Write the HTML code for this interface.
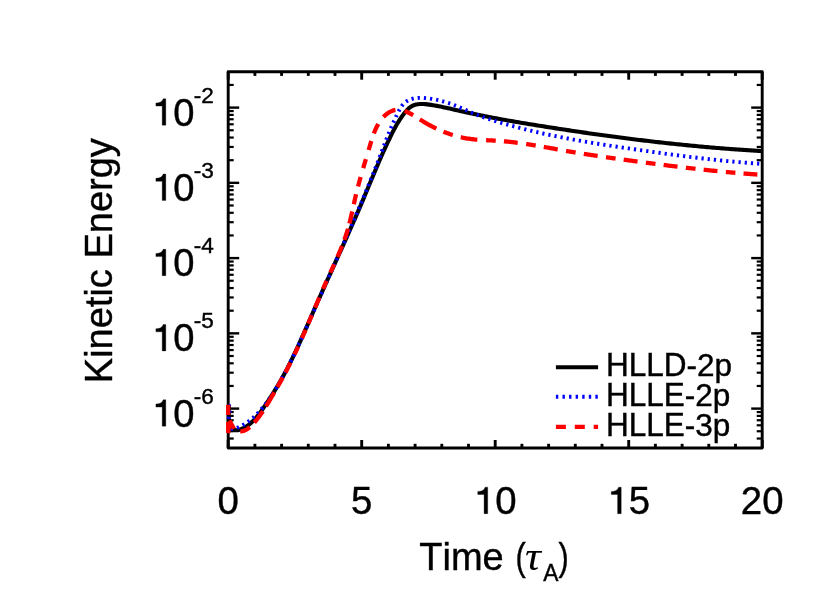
<!DOCTYPE html>
<html><head><meta charset="utf-8"><title>Kinetic Energy</title>
<style>
html,body{margin:0;padding:0;background:#fff;}
body{width:830px;height:593px;overflow:hidden;}
svg{display:block;will-change:transform;}
text{font-family:"Liberation Sans",sans-serif;fill:#000;stroke:#000;stroke-width:0.4px;font-kerning:none;}
</style></head><body>
<svg width="830" height="593" viewBox="0 0 830 593">
<rect width="830" height="593" fill="#fff"/>
<g stroke="#000">
<line x1="228.20" y1="448.0" x2="228.20" y2="440.00" stroke-width="2.9"/>
<line x1="228.20" y1="71.7" x2="228.20" y2="79.70" stroke-width="2.9"/>
<line x1="254.90" y1="448.0" x2="254.90" y2="443.80" stroke-width="2.9"/>
<line x1="254.90" y1="71.7" x2="254.90" y2="75.90" stroke-width="2.9"/>
<line x1="281.60" y1="448.0" x2="281.60" y2="443.80" stroke-width="2.9"/>
<line x1="281.60" y1="71.7" x2="281.60" y2="75.90" stroke-width="2.9"/>
<line x1="308.30" y1="448.0" x2="308.30" y2="443.80" stroke-width="2.9"/>
<line x1="308.30" y1="71.7" x2="308.30" y2="75.90" stroke-width="2.9"/>
<line x1="335.00" y1="448.0" x2="335.00" y2="443.80" stroke-width="2.9"/>
<line x1="335.00" y1="71.7" x2="335.00" y2="75.90" stroke-width="2.9"/>
<line x1="361.70" y1="448.0" x2="361.70" y2="440.00" stroke-width="2.9"/>
<line x1="361.70" y1="71.7" x2="361.70" y2="79.70" stroke-width="2.9"/>
<line x1="388.40" y1="448.0" x2="388.40" y2="443.80" stroke-width="2.9"/>
<line x1="388.40" y1="71.7" x2="388.40" y2="75.90" stroke-width="2.9"/>
<line x1="415.10" y1="448.0" x2="415.10" y2="443.80" stroke-width="2.9"/>
<line x1="415.10" y1="71.7" x2="415.10" y2="75.90" stroke-width="2.9"/>
<line x1="441.80" y1="448.0" x2="441.80" y2="443.80" stroke-width="2.9"/>
<line x1="441.80" y1="71.7" x2="441.80" y2="75.90" stroke-width="2.9"/>
<line x1="468.50" y1="448.0" x2="468.50" y2="443.80" stroke-width="2.9"/>
<line x1="468.50" y1="71.7" x2="468.50" y2="75.90" stroke-width="2.9"/>
<line x1="495.20" y1="448.0" x2="495.20" y2="440.00" stroke-width="2.9"/>
<line x1="495.20" y1="71.7" x2="495.20" y2="79.70" stroke-width="2.9"/>
<line x1="521.90" y1="448.0" x2="521.90" y2="443.80" stroke-width="2.9"/>
<line x1="521.90" y1="71.7" x2="521.90" y2="75.90" stroke-width="2.9"/>
<line x1="548.60" y1="448.0" x2="548.60" y2="443.80" stroke-width="2.9"/>
<line x1="548.60" y1="71.7" x2="548.60" y2="75.90" stroke-width="2.9"/>
<line x1="575.30" y1="448.0" x2="575.30" y2="443.80" stroke-width="2.9"/>
<line x1="575.30" y1="71.7" x2="575.30" y2="75.90" stroke-width="2.9"/>
<line x1="602.00" y1="448.0" x2="602.00" y2="443.80" stroke-width="2.9"/>
<line x1="602.00" y1="71.7" x2="602.00" y2="75.90" stroke-width="2.9"/>
<line x1="628.70" y1="448.0" x2="628.70" y2="440.00" stroke-width="2.9"/>
<line x1="628.70" y1="71.7" x2="628.70" y2="79.70" stroke-width="2.9"/>
<line x1="655.40" y1="448.0" x2="655.40" y2="443.80" stroke-width="2.9"/>
<line x1="655.40" y1="71.7" x2="655.40" y2="75.90" stroke-width="2.9"/>
<line x1="682.10" y1="448.0" x2="682.10" y2="443.80" stroke-width="2.9"/>
<line x1="682.10" y1="71.7" x2="682.10" y2="75.90" stroke-width="2.9"/>
<line x1="708.80" y1="448.0" x2="708.80" y2="443.80" stroke-width="2.9"/>
<line x1="708.80" y1="71.7" x2="708.80" y2="75.90" stroke-width="2.9"/>
<line x1="735.50" y1="448.0" x2="735.50" y2="443.80" stroke-width="2.9"/>
<line x1="735.50" y1="71.7" x2="735.50" y2="75.90" stroke-width="2.9"/>
<line x1="762.20" y1="448.0" x2="762.20" y2="440.00" stroke-width="2.9"/>
<line x1="762.20" y1="71.7" x2="762.20" y2="79.70" stroke-width="2.9"/>
<line x1="228.2" y1="438.54" x2="233.70" y2="438.54" stroke-width="2.2"/>
<line x1="762.2" y1="438.54" x2="756.70" y2="438.54" stroke-width="2.2"/>
<line x1="228.2" y1="431.25" x2="233.70" y2="431.25" stroke-width="2.2"/>
<line x1="762.2" y1="431.25" x2="756.70" y2="431.25" stroke-width="2.2"/>
<line x1="228.2" y1="425.29" x2="233.70" y2="425.29" stroke-width="2.2"/>
<line x1="762.2" y1="425.29" x2="756.70" y2="425.29" stroke-width="2.2"/>
<line x1="228.2" y1="420.26" x2="233.70" y2="420.26" stroke-width="2.2"/>
<line x1="762.2" y1="420.26" x2="756.70" y2="420.26" stroke-width="2.2"/>
<line x1="228.2" y1="415.89" x2="233.70" y2="415.89" stroke-width="2.2"/>
<line x1="762.2" y1="415.89" x2="756.70" y2="415.89" stroke-width="2.2"/>
<line x1="228.2" y1="412.04" x2="233.70" y2="412.04" stroke-width="2.2"/>
<line x1="762.2" y1="412.04" x2="756.70" y2="412.04" stroke-width="2.2"/>
<line x1="228.2" y1="408.60" x2="239.20" y2="408.60" stroke-width="2.4"/>
<line x1="762.2" y1="408.60" x2="751.20" y2="408.60" stroke-width="2.4"/>
<line x1="228.2" y1="385.95" x2="233.70" y2="385.95" stroke-width="2.2"/>
<line x1="762.2" y1="385.95" x2="756.70" y2="385.95" stroke-width="2.2"/>
<line x1="228.2" y1="372.70" x2="233.70" y2="372.70" stroke-width="2.2"/>
<line x1="762.2" y1="372.70" x2="756.70" y2="372.70" stroke-width="2.2"/>
<line x1="228.2" y1="363.29" x2="233.70" y2="363.29" stroke-width="2.2"/>
<line x1="762.2" y1="363.29" x2="756.70" y2="363.29" stroke-width="2.2"/>
<line x1="228.2" y1="356.00" x2="233.70" y2="356.00" stroke-width="2.2"/>
<line x1="762.2" y1="356.00" x2="756.70" y2="356.00" stroke-width="2.2"/>
<line x1="228.2" y1="350.04" x2="233.70" y2="350.04" stroke-width="2.2"/>
<line x1="762.2" y1="350.04" x2="756.70" y2="350.04" stroke-width="2.2"/>
<line x1="228.2" y1="345.01" x2="233.70" y2="345.01" stroke-width="2.2"/>
<line x1="762.2" y1="345.01" x2="756.70" y2="345.01" stroke-width="2.2"/>
<line x1="228.2" y1="340.64" x2="233.70" y2="340.64" stroke-width="2.2"/>
<line x1="762.2" y1="340.64" x2="756.70" y2="340.64" stroke-width="2.2"/>
<line x1="228.2" y1="336.79" x2="233.70" y2="336.79" stroke-width="2.2"/>
<line x1="762.2" y1="336.79" x2="756.70" y2="336.79" stroke-width="2.2"/>
<line x1="228.2" y1="333.35" x2="239.20" y2="333.35" stroke-width="2.4"/>
<line x1="762.2" y1="333.35" x2="751.20" y2="333.35" stroke-width="2.4"/>
<line x1="228.2" y1="310.70" x2="233.70" y2="310.70" stroke-width="2.2"/>
<line x1="762.2" y1="310.70" x2="756.70" y2="310.70" stroke-width="2.2"/>
<line x1="228.2" y1="297.45" x2="233.70" y2="297.45" stroke-width="2.2"/>
<line x1="762.2" y1="297.45" x2="756.70" y2="297.45" stroke-width="2.2"/>
<line x1="228.2" y1="288.04" x2="233.70" y2="288.04" stroke-width="2.2"/>
<line x1="762.2" y1="288.04" x2="756.70" y2="288.04" stroke-width="2.2"/>
<line x1="228.2" y1="280.75" x2="233.70" y2="280.75" stroke-width="2.2"/>
<line x1="762.2" y1="280.75" x2="756.70" y2="280.75" stroke-width="2.2"/>
<line x1="228.2" y1="274.79" x2="233.70" y2="274.79" stroke-width="2.2"/>
<line x1="762.2" y1="274.79" x2="756.70" y2="274.79" stroke-width="2.2"/>
<line x1="228.2" y1="269.76" x2="233.70" y2="269.76" stroke-width="2.2"/>
<line x1="762.2" y1="269.76" x2="756.70" y2="269.76" stroke-width="2.2"/>
<line x1="228.2" y1="265.39" x2="233.70" y2="265.39" stroke-width="2.2"/>
<line x1="762.2" y1="265.39" x2="756.70" y2="265.39" stroke-width="2.2"/>
<line x1="228.2" y1="261.54" x2="233.70" y2="261.54" stroke-width="2.2"/>
<line x1="762.2" y1="261.54" x2="756.70" y2="261.54" stroke-width="2.2"/>
<line x1="228.2" y1="258.10" x2="239.20" y2="258.10" stroke-width="2.4"/>
<line x1="762.2" y1="258.10" x2="751.20" y2="258.10" stroke-width="2.4"/>
<line x1="228.2" y1="235.45" x2="233.70" y2="235.45" stroke-width="2.2"/>
<line x1="762.2" y1="235.45" x2="756.70" y2="235.45" stroke-width="2.2"/>
<line x1="228.2" y1="222.20" x2="233.70" y2="222.20" stroke-width="2.2"/>
<line x1="762.2" y1="222.20" x2="756.70" y2="222.20" stroke-width="2.2"/>
<line x1="228.2" y1="212.79" x2="233.70" y2="212.79" stroke-width="2.2"/>
<line x1="762.2" y1="212.79" x2="756.70" y2="212.79" stroke-width="2.2"/>
<line x1="228.2" y1="205.50" x2="233.70" y2="205.50" stroke-width="2.2"/>
<line x1="762.2" y1="205.50" x2="756.70" y2="205.50" stroke-width="2.2"/>
<line x1="228.2" y1="199.54" x2="233.70" y2="199.54" stroke-width="2.2"/>
<line x1="762.2" y1="199.54" x2="756.70" y2="199.54" stroke-width="2.2"/>
<line x1="228.2" y1="194.51" x2="233.70" y2="194.51" stroke-width="2.2"/>
<line x1="762.2" y1="194.51" x2="756.70" y2="194.51" stroke-width="2.2"/>
<line x1="228.2" y1="190.14" x2="233.70" y2="190.14" stroke-width="2.2"/>
<line x1="762.2" y1="190.14" x2="756.70" y2="190.14" stroke-width="2.2"/>
<line x1="228.2" y1="186.29" x2="233.70" y2="186.29" stroke-width="2.2"/>
<line x1="762.2" y1="186.29" x2="756.70" y2="186.29" stroke-width="2.2"/>
<line x1="228.2" y1="182.85" x2="239.20" y2="182.85" stroke-width="2.4"/>
<line x1="762.2" y1="182.85" x2="751.20" y2="182.85" stroke-width="2.4"/>
<line x1="228.2" y1="160.20" x2="233.70" y2="160.20" stroke-width="2.2"/>
<line x1="762.2" y1="160.20" x2="756.70" y2="160.20" stroke-width="2.2"/>
<line x1="228.2" y1="146.95" x2="233.70" y2="146.95" stroke-width="2.2"/>
<line x1="762.2" y1="146.95" x2="756.70" y2="146.95" stroke-width="2.2"/>
<line x1="228.2" y1="137.54" x2="233.70" y2="137.54" stroke-width="2.2"/>
<line x1="762.2" y1="137.54" x2="756.70" y2="137.54" stroke-width="2.2"/>
<line x1="228.2" y1="130.25" x2="233.70" y2="130.25" stroke-width="2.2"/>
<line x1="762.2" y1="130.25" x2="756.70" y2="130.25" stroke-width="2.2"/>
<line x1="228.2" y1="124.29" x2="233.70" y2="124.29" stroke-width="2.2"/>
<line x1="762.2" y1="124.29" x2="756.70" y2="124.29" stroke-width="2.2"/>
<line x1="228.2" y1="119.26" x2="233.70" y2="119.26" stroke-width="2.2"/>
<line x1="762.2" y1="119.26" x2="756.70" y2="119.26" stroke-width="2.2"/>
<line x1="228.2" y1="114.89" x2="233.70" y2="114.89" stroke-width="2.2"/>
<line x1="762.2" y1="114.89" x2="756.70" y2="114.89" stroke-width="2.2"/>
<line x1="228.2" y1="111.04" x2="233.70" y2="111.04" stroke-width="2.2"/>
<line x1="762.2" y1="111.04" x2="756.70" y2="111.04" stroke-width="2.2"/>
<line x1="228.2" y1="107.60" x2="239.20" y2="107.60" stroke-width="2.4"/>
<line x1="762.2" y1="107.60" x2="751.20" y2="107.60" stroke-width="2.4"/>
<line x1="228.2" y1="84.95" x2="233.70" y2="84.95" stroke-width="2.2"/>
<line x1="762.2" y1="84.95" x2="756.70" y2="84.95" stroke-width="2.2"/>
</g>
<rect x="228.2" y="71.7" width="534.00" height="376.30" fill="none" stroke="#000" stroke-width="2.9" stroke-linejoin="round"/>
<g fill="none" stroke-linejoin="round">
<path d="M228.30,404.70 L228.65,406.01 L228.83,407.62 L228.87,409.48 L228.82,411.53 L228.74,413.70 L228.65,415.95 L228.60,418.22 L228.64,420.44 L228.82,422.55 L229.17,424.50 L229.73,426.23 L230.54,427.69 L231.59,428.84 L232.87,429.65 L234.35,430.12 L235.99,430.28 L237.73,430.13 L239.54,429.71 L241.37,429.04 L243.19,428.20 L244.96,427.23 L246.66,426.18 L248.27,425.06 L249.82,423.87 L251.29,422.62 L252.70,421.32 L254.05,419.97 L255.35,418.57 L256.60,417.14 L257.81,415.66 L258.99,414.16 L260.13,412.64 L261.25,411.09 L262.35,409.53 L263.43,407.96 L264.51,406.39 L265.57,404.81 L266.63,403.22 L267.69,401.64 L268.73,400.05 L269.77,398.46 L270.80,396.86 L271.82,395.26 L272.84,393.66 L273.84,392.05 L274.84,390.43 L275.83,388.82 L276.80,387.19 L277.78,385.57 L278.74,383.93 L279.69,382.30 L280.63,380.65 L281.57,379.01 L282.49,377.35 L283.40,375.69 L284.31,374.03 L285.20,372.36 L286.09,370.68 L286.97,369.01 L287.84,367.32 L288.71,365.63 L289.56,363.94 L290.41,362.24 L291.25,360.54 L292.09,358.84 L292.92,357.13 L293.74,355.42 L294.56,353.71 L295.37,351.99 L296.17,350.27 L296.97,348.54 L297.77,346.82 L298.56,345.09 L299.35,343.36 L300.14,341.62 L300.92,339.89 L301.69,338.15 L302.47,336.41 L303.24,334.67 L304.01,332.93 L304.77,331.19 L305.54,329.44 L306.30,327.70 L307.07,325.95 L307.83,324.21 L308.59,322.46 L309.35,320.71 L310.11,318.97 L310.87,317.22 L311.63,315.48 L312.39,313.73 L313.15,311.98 L313.91,310.24 L314.68,308.50 L315.44,306.76 L316.21,305.01 L316.98,303.27 L317.75,301.53 L318.52,299.79 L319.29,298.06 L320.07,296.32 L320.84,294.58 L321.62,292.85 L322.39,291.11 L323.17,289.38 L323.95,287.64 L324.73,285.91 L325.51,284.18 L326.29,282.44 L327.07,280.71 L327.85,278.98 L328.63,277.25 L329.41,275.52 L330.20,273.78 L330.98,272.05 L331.76,270.32 L332.55,268.59 L333.33,266.86 L334.11,265.13 L334.90,263.40 L335.68,261.67 L336.46,259.94 L337.25,258.21 L338.03,256.48 L338.81,254.75 L339.59,253.02 L340.37,251.29 L341.16,249.56 L341.94,247.83 L342.72,246.09 L343.50,244.36 L344.27,242.63 L345.05,240.90 L345.83,239.16 L346.61,237.43 L347.38,235.70 L348.16,233.96 L348.93,232.23 L349.70,230.49 L350.47,228.75 L351.24,227.02 L352.01,225.28 L352.78,223.54 L353.54,221.80 L354.30,220.06 L355.07,218.32 L355.83,216.57 L356.59,214.83 L357.34,213.09 L358.10,211.34 L358.85,209.59 L359.60,207.85 L360.35,206.10 L361.10,204.35 L361.85,202.60 L362.59,200.85 L363.33,199.09 L364.07,197.34 L364.81,195.58 L365.54,193.83 L366.28,192.07 L367.01,190.31 L367.74,188.55 L368.47,186.79 L369.20,185.03 L369.94,183.27 L370.67,181.52 L371.40,179.76 L372.13,178.00 L372.86,176.24 L373.60,174.49 L374.33,172.73 L375.07,170.98 L375.81,169.22 L376.55,167.47 L377.30,165.72 L378.05,163.97 L378.80,162.22 L379.55,160.48 L380.31,158.74 L381.07,157.00 L381.83,155.26 L382.60,153.52 L383.37,151.79 L384.15,150.06 L384.94,148.34 L385.73,146.61 L386.52,144.89 L387.32,143.18 L388.13,141.46 L388.94,139.76 L389.76,138.05 L390.58,136.35 L391.42,134.66 L392.26,132.96 L393.12,131.28 L394.00,129.60 L394.89,127.93 L395.81,126.27 L396.75,124.61 L397.72,122.97 L398.72,121.33 L399.75,119.71 L400.83,118.09 L401.94,116.49 L403.10,114.91 L404.30,113.33 L405.55,111.78 L406.86,110.27 L408.23,108.86 L409.66,107.59 L411.17,106.51 L412.76,105.64 L414.41,104.98 L416.13,104.49 L417.90,104.17 L419.71,104.00 L421.56,103.95 L423.44,104.00 L425.34,104.14 L427.25,104.35 L429.17,104.61 L431.08,104.90 L432.98,105.20 L434.87,105.53 L436.76,105.87 L438.64,106.23 L440.52,106.60 L442.39,106.98 L444.25,107.38 L446.12,107.78 L447.97,108.19 L449.83,108.61 L451.68,109.03 L453.54,109.45 L455.39,109.88 L457.24,110.30 L459.09,110.72 L460.94,111.14 L462.79,111.56 L464.65,111.97 L466.50,112.38 L468.36,112.78 L470.21,113.18 L472.07,113.57 L473.93,113.96 L475.79,114.35 L477.65,114.73 L479.51,115.11 L481.37,115.49 L483.23,115.86 L485.10,116.23 L486.96,116.59 L488.83,116.95 L490.69,117.31 L492.56,117.67 L494.43,118.02 L496.29,118.37 L498.16,118.71 L500.03,119.06 L501.90,119.40 L503.77,119.74 L505.64,120.07 L507.52,120.40 L509.39,120.73 L511.26,121.06 L513.14,121.39 L515.01,121.71 L516.88,122.03 L518.76,122.35 L520.63,122.66 L522.51,122.98 L524.38,123.29 L526.26,123.60 L528.14,123.91 L530.01,124.22 L531.89,124.53 L533.77,124.83 L535.65,125.14 L537.52,125.44 L539.40,125.74 L541.28,126.04 L543.16,126.34 L545.04,126.64 L546.91,126.93 L548.79,127.23 L550.67,127.52 L552.55,127.82 L554.43,128.11 L556.31,128.40 L558.19,128.69 L560.07,128.98 L561.95,129.26 L563.83,129.55 L565.71,129.84 L567.59,130.12 L569.47,130.40 L571.35,130.68 L573.23,130.96 L575.11,131.24 L576.99,131.52 L578.87,131.80 L580.76,132.07 L582.64,132.35 L584.52,132.62 L586.40,132.89 L588.28,133.16 L590.17,133.43 L592.05,133.70 L593.93,133.96 L595.81,134.23 L597.70,134.49 L599.58,134.75 L601.46,135.01 L603.35,135.27 L605.23,135.53 L607.11,135.79 L609.00,136.04 L610.88,136.30 L612.77,136.55 L614.65,136.80 L616.53,137.05 L618.42,137.29 L620.30,137.54 L622.19,137.79 L624.07,138.03 L625.96,138.27 L627.85,138.51 L629.73,138.75 L631.62,138.99 L633.50,139.22 L635.39,139.46 L637.28,139.69 L639.16,139.92 L641.05,140.15 L642.94,140.38 L644.82,140.60 L646.71,140.83 L648.60,141.05 L650.49,141.27 L652.37,141.49 L654.26,141.71 L656.15,141.93 L658.04,142.14 L659.93,142.35 L661.82,142.57 L663.71,142.78 L665.59,142.98 L667.48,143.19 L669.37,143.39 L671.26,143.60 L673.15,143.80 L675.04,144.00 L676.93,144.19 L678.82,144.39 L680.71,144.58 L682.61,144.78 L684.50,144.97 L686.39,145.16 L688.28,145.34 L690.17,145.53 L692.06,145.71 L693.95,145.89 L695.85,146.07 L697.74,146.25 L699.63,146.42 L701.52,146.60 L703.42,146.77 L705.31,146.94 L707.20,147.11 L709.10,147.27 L710.99,147.44 L712.89,147.60 L714.78,147.76 L716.67,147.92 L718.57,148.07 L720.46,148.23 L722.36,148.38 L724.25,148.53 L726.15,148.68 L728.04,148.83 L729.94,148.97 L731.84,149.11 L733.73,149.25 L735.63,149.39 L737.53,149.53 L739.42,149.66 L741.32,149.79 L743.22,149.92 L745.11,150.05 L747.01,150.17 L748.91,150.30 L750.81,150.42 L752.71,150.54 L754.60,150.65 L756.50,150.77 L758.40,150.88 L760.30,150.99 L762.20,151.10" stroke="#000" stroke-width="4.1"/>
<path d="M228.30,404.70 L229.13,405.81 L229.57,407.28 L229.71,409.07 L229.62,411.09 L229.38,413.29 L229.08,415.59 L228.79,417.94 L228.60,420.26 L228.59,422.49 L228.82,424.56 L229.40,426.41 L230.39,427.94 L231.77,428.88 L233.47,428.86 L235.26,428.38 L237.02,427.79 L238.76,427.10 L240.48,426.33 L242.17,425.47 L243.84,424.53 L245.47,423.52 L247.08,422.44 L248.65,421.31 L250.20,420.12 L251.71,418.88 L253.19,417.60 L254.63,416.29 L256.04,414.94 L257.41,413.57 L258.75,412.17 L260.05,410.75 L261.32,409.31 L262.56,407.85 L263.78,406.36 L264.96,404.86 L266.13,403.33 L267.26,401.79 L268.38,400.24 L269.47,398.67 L270.55,397.08 L271.61,395.49 L272.65,393.88 L273.67,392.26 L274.68,390.64 L275.68,389.00 L276.67,387.36 L277.65,385.72 L278.62,384.06 L279.58,382.41 L280.53,380.74 L281.47,379.07 L282.40,377.40 L283.32,375.72 L284.24,374.03 L285.15,372.35 L286.04,370.65 L286.94,368.95 L287.82,367.25 L288.70,365.54 L289.56,363.83 L290.43,362.11 L291.28,360.39 L292.13,358.67 L292.98,356.95 L293.82,355.22 L294.65,353.48 L295.48,351.75 L296.30,350.01 L297.12,348.26 L297.93,346.52 L298.74,344.77 L299.54,343.02 L300.35,341.27 L301.14,339.52 L301.94,337.76 L302.73,336.00 L303.52,334.25 L304.30,332.49 L305.09,330.72 L305.87,328.96 L306.65,327.20 L307.43,325.43 L308.20,323.67 L308.98,321.90 L309.75,320.14 L310.53,318.37 L311.30,316.61 L312.07,314.84 L312.85,313.07 L313.62,311.31 L314.39,309.54 L315.17,307.78 L315.95,306.02 L316.72,304.25 L317.50,302.49 L318.28,300.73 L319.06,298.97 L319.83,297.21 L320.61,295.45 L321.39,293.69 L322.17,291.93 L322.95,290.17 L323.73,288.41 L324.51,286.65 L325.30,284.89 L326.08,283.13 L326.86,281.38 L327.64,279.62 L328.42,277.86 L329.20,276.11 L329.98,274.35 L330.77,272.59 L331.55,270.84 L332.33,269.08 L333.11,267.32 L333.89,265.57 L334.67,263.81 L335.45,262.05 L336.23,260.30 L337.01,258.54 L337.79,256.78 L338.57,255.03 L339.35,253.27 L340.12,251.51 L340.90,249.76 L341.68,248.00 L342.45,246.24 L343.23,244.48 L344.00,242.72 L344.78,240.97 L345.55,239.21 L346.32,237.45 L347.09,235.69 L347.86,233.93 L348.63,232.17 L349.40,230.41 L350.16,228.64 L350.93,226.88 L351.69,225.12 L352.46,223.36 L353.22,221.59 L353.98,219.83 L354.74,218.06 L355.50,216.30 L356.26,214.53 L357.01,212.76 L357.77,210.99 L358.52,209.23 L359.27,207.46 L360.02,205.69 L360.77,203.91 L361.51,202.14 L362.26,200.37 L363.00,198.59 L363.74,196.82 L364.48,195.04 L365.21,193.27 L365.95,191.49 L366.68,189.71 L367.41,187.93 L368.14,186.15 L368.87,184.36 L369.59,182.58 L370.32,180.80 L371.04,179.01 L371.76,177.22 L372.47,175.43 L373.19,173.64 L373.90,171.85 L374.61,170.06 L375.31,168.27 L376.02,166.47 L376.72,164.67 L377.42,162.87 L378.11,161.07 L378.81,159.27 L379.50,157.47 L380.19,155.67 L380.87,153.86 L381.56,152.05 L382.24,150.25 L382.92,148.44 L383.60,146.63 L384.28,144.83 L384.96,143.03 L385.64,141.23 L386.33,139.44 L387.02,137.66 L387.72,135.89 L388.42,134.12 L389.13,132.36 L389.84,130.62 L390.56,128.88 L391.29,127.16 L392.04,125.44 L392.79,123.72 L393.57,121.99 L394.36,120.26 L395.17,118.50 L396.00,116.73 L396.86,114.92 L397.74,113.09 L398.66,111.26 L399.64,109.45 L400.67,107.70 L401.78,106.04 L402.98,104.51 L404.27,103.14 L405.67,101.94 L407.18,100.93 L408.77,100.08 L410.44,99.38 L412.19,98.83 L413.99,98.41 L415.85,98.11 L417.75,97.93 L419.69,97.84 L421.65,97.84 L423.62,97.92 L425.60,98.07 L427.57,98.27 L429.53,98.52 L431.46,98.81 L433.39,99.13 L435.29,99.49 L437.18,99.89 L439.05,100.32 L440.91,100.79 L442.75,101.29 L444.58,101.82 L446.41,102.38 L448.22,102.97 L450.02,103.59 L451.82,104.24 L453.60,104.91 L455.39,105.62 L457.16,106.34 L458.94,107.08 L460.71,107.84 L462.47,108.60 L464.24,109.37 L466.01,110.15 L467.78,110.92 L469.55,111.69 L471.32,112.45 L473.10,113.20 L474.89,113.94 L476.68,114.65 L478.47,115.35 L480.27,116.02 L482.08,116.68 L483.89,117.33 L485.71,117.96 L487.53,118.57 L489.36,119.18 L491.19,119.77 L493.02,120.35 L494.85,120.92 L496.69,121.48 L498.53,122.04 L500.37,122.59 L502.21,123.13 L504.06,123.66 L505.91,124.19 L507.76,124.71 L509.61,125.23 L511.46,125.74 L513.31,126.24 L515.17,126.74 L517.02,127.23 L518.88,127.71 L520.74,128.19 L522.60,128.66 L524.47,129.13 L526.33,129.59 L528.20,130.05 L530.07,130.50 L531.93,130.95 L533.80,131.39 L535.68,131.82 L537.55,132.25 L539.42,132.68 L541.30,133.10 L543.18,133.51 L545.05,133.92 L546.93,134.33 L548.81,134.73 L550.70,135.12 L552.58,135.51 L554.46,135.90 L556.35,136.28 L558.23,136.66 L560.12,137.04 L562.01,137.41 L563.90,137.77 L565.79,138.14 L567.68,138.50 L569.57,138.85 L571.46,139.20 L573.35,139.55 L575.25,139.89 L577.14,140.23 L579.04,140.57 L580.93,140.91 L582.83,141.24 L584.73,141.57 L586.63,141.89 L588.53,142.21 L590.42,142.53 L592.32,142.85 L594.23,143.16 L596.13,143.47 L598.03,143.78 L599.93,144.09 L601.83,144.39 L603.73,144.69 L605.64,144.99 L607.54,145.29 L609.45,145.58 L611.35,145.88 L613.25,146.17 L615.16,146.46 L617.06,146.75 L618.97,147.03 L620.87,147.32 L622.78,147.60 L624.68,147.88 L626.59,148.16 L628.49,148.44 L630.40,148.72 L632.31,149.00 L634.21,149.27 L636.12,149.55 L638.02,149.82 L639.93,150.10 L641.83,150.37 L643.74,150.64 L645.64,150.91 L647.55,151.18 L649.45,151.45 L651.36,151.72 L653.26,151.99 L655.17,152.26 L657.07,152.52 L658.97,152.79 L660.88,153.05 L662.78,153.32 L664.69,153.58 L666.59,153.84 L668.50,154.09 L670.40,154.35 L672.31,154.61 L674.21,154.86 L676.12,155.11 L678.02,155.36 L679.93,155.61 L681.83,155.86 L683.74,156.11 L685.65,156.35 L687.55,156.59 L689.46,156.83 L691.36,157.07 L693.27,157.30 L695.18,157.54 L697.09,157.77 L698.99,157.99 L700.90,158.22 L702.81,158.44 L704.72,158.67 L706.63,158.89 L708.54,159.10 L710.45,159.32 L712.36,159.53 L714.27,159.73 L716.18,159.94 L718.09,160.14 L720.00,160.34 L721.91,160.54 L723.83,160.73 L725.74,160.92 L727.65,161.11 L729.57,161.30 L731.48,161.48 L733.40,161.66 L735.31,161.83 L737.23,162.00 L739.15,162.17 L741.06,162.34 L742.98,162.50 L744.90,162.65 L746.82,162.81 L748.74,162.96 L750.66,163.10 L752.58,163.25 L754.50,163.39 L756.43,163.52 L758.35,163.65 L760.27,163.78 L762.20,163.90" stroke="#0000ff" stroke-width="3.9" stroke-dasharray="2.2 4"/>
<path d="M228.20,404.70 L228.20,433.20 M228.20,433.20 L229.40,420.50 M229.40,420.50 L234.00,428.80" stroke="#ff0000" stroke-width="4.3" stroke-dasharray="10.3 7.0"/>
<path d="M240.30,431.28 L241.10,431.28 L241.88,431.22 L242.65,431.09 L243.41,430.91 L244.15,430.67 L244.89,430.37 L245.61,430.03 L246.32,429.64 L247.02,429.21 L247.71,428.75 L248.39,428.24 L249.06,427.71 L249.72,427.15 L249.82,427.07 M254.33,422.48 L255.08,421.63 L255.81,420.76 L256.54,419.90 L257.25,419.02 L257.94,418.13 L258.63,417.24 L259.31,416.34 L259.97,415.44 L260.63,414.53 L261.28,413.61 L261.92,412.69 L262.55,411.76 L262.89,411.24 M266.05,406.31 L266.70,405.25 L267.35,404.19 L267.99,403.13 L268.63,402.06 L269.26,400.99 L269.90,399.92 L270.53,398.85 L271.15,397.78 L271.78,396.71 L272.41,395.64 L273.03,394.56 L273.66,393.49 L274.28,392.42 L274.28,392.42 M277.43,386.95 L277.86,386.20 L278.29,385.44 L278.72,384.69 L279.15,383.94 L279.57,383.18 L279.99,382.43 L280.42,381.67 L280.84,380.92 L281.26,380.16 L281.68,379.41 L282.10,378.65 L282.51,377.89 L282.75,377.46 M285.45,372.46 L285.86,371.69 L286.26,370.93 L286.66,370.16 L287.06,369.39 L287.46,368.63 L287.86,367.86 L288.26,367.09 L288.65,366.32 L289.04,365.55 L289.43,364.78 L289.82,364.00 L290.21,363.23 L290.49,362.68 M294.49,354.44 L294.81,353.77 L295.13,353.10 L295.45,352.43 L295.76,351.75 L296.08,351.08 L296.39,350.41 L296.70,349.73 L297.02,349.06 L297.33,348.39 L297.64,347.71 L297.95,347.03 L298.21,346.47 M301.92,338.22 L302.22,337.53 L302.52,336.85 L302.82,336.17 L303.12,335.49 L303.42,334.81 L303.72,334.13 L304.02,333.44 L304.32,332.76 L304.62,332.08 L304.91,331.39 L305.21,330.71 L305.50,330.03 L305.60,329.80 M308.25,323.64 L308.54,322.95 L308.84,322.27 L309.13,321.58 L309.42,320.89 L309.71,320.21 L310.00,319.52 L310.30,318.84 L310.59,318.15 L310.88,317.46 L311.17,316.78 L311.46,316.09 L311.75,315.40 L311.85,315.17 M315.05,307.62 L315.39,306.82 L315.72,306.02 L316.06,305.21 L316.40,304.41 L316.74,303.61 L317.08,302.81 L317.42,302.01 L317.76,301.21 L318.11,300.41 L318.45,299.61 L318.79,298.81 L319.13,298.01 L319.33,297.55 M323.07,288.89 L323.37,288.20 L323.67,287.52 L323.96,286.84 L324.26,286.16 L324.56,285.47 L324.87,284.79 L325.17,284.11 L325.47,283.43 L325.77,282.75 L326.07,282.07 L326.38,281.39 L326.63,280.83 M330.32,272.70 L330.63,272.02 L330.94,271.34 L331.25,270.67 L331.56,269.99 L331.87,269.32 L332.18,268.64 L332.49,267.96 L332.80,267.29 L333.11,266.61 L333.42,265.94 L333.73,265.26 L334.04,264.59 L334.19,264.25 M337.47,256.90 L337.87,256.00 L338.26,255.09 L338.65,254.18 L339.04,253.27 L339.43,252.36 L339.81,251.45 L340.20,250.54 L340.57,249.62 L340.95,248.71 L341.32,247.79 L341.69,246.88 L342.05,245.96 L342.05,245.96 M344.42,239.71 L344.71,238.89 L345.00,238.08 L345.28,237.26 L345.56,236.44 L345.84,235.62 L346.11,234.79 L346.38,233.97 L346.65,233.14 L346.91,232.31 L347.17,231.48 L347.42,230.65 L347.67,229.82 L347.91,228.98 L347.98,228.74 M349.39,223.57 L349.63,222.60 L349.88,221.63 L350.12,220.66 L350.35,219.69 L350.58,218.72 L350.81,217.74 L351.04,216.77 L351.26,215.79 L351.49,214.82 L351.71,213.84 L351.93,212.86 L352.14,211.89 L352.22,211.52 M353.80,204.32 L353.99,203.47 L354.18,202.62 L354.37,201.76 L354.56,200.91 L354.75,200.07 L354.94,199.22 L355.13,198.37 L355.33,197.53 L355.53,196.68 L355.72,195.84 L355.92,195.00 L356.10,194.28 M358.09,186.41 L358.27,185.70 L358.46,184.99 L358.65,184.27 L358.84,183.56 L359.03,182.85 L359.22,182.14 L359.42,181.44 L359.61,180.73 L359.81,180.02 L360.00,179.31 L360.20,178.60 L360.40,177.89 L360.60,177.19 L360.63,177.07 M363.18,168.23 L363.39,167.52 L363.60,166.81 L363.81,166.10 L364.02,165.39 L364.23,164.68 L364.44,163.97 L364.65,163.26 L364.86,162.55 L365.07,161.84 L365.29,161.13 L365.50,160.42 L365.72,159.71 L365.89,159.11 M368.64,150.02 L368.85,149.30 L369.07,148.57 L369.29,147.85 L369.51,147.12 L369.73,146.39 L369.95,145.66 L370.17,144.93 L370.38,144.20 L370.60,143.47 L370.82,142.74 L371.05,142.01 L371.27,141.28 L371.35,141.03 M373.89,133.44 L374.20,132.61 L374.52,131.79 L374.85,130.97 L375.19,130.16 L375.54,129.36 L375.89,128.56 L376.26,127.77 L376.64,126.99 L377.03,126.21 L377.43,125.45 L377.85,124.69 L378.27,123.94 L378.27,123.94 M383.45,116.98 L384.23,116.19 L385.05,115.43 L385.89,114.69 L386.76,113.99 L387.66,113.32 L388.58,112.70 L389.53,112.12 L390.50,111.60 L391.48,111.14 L392.48,110.74 L393.49,110.40 L394.52,110.14 L395.43,109.97 M404.63,111.04 L405.32,111.29 L406.00,111.56 L406.69,111.85 L407.38,112.15 L408.06,112.47 L408.75,112.80 L409.43,113.15 L410.11,113.50 L410.79,113.87 L411.47,114.25 L412.15,114.64 L412.83,115.03 L413.17,115.23 M419.85,119.41 L421.16,120.23 L422.47,121.04 L423.77,121.83 L425.06,122.59 L426.36,123.35 L427.65,124.08 L428.93,124.80 L430.22,125.50 L431.51,126.19 L432.80,126.86 L434.10,127.52 L435.40,128.16 L436.37,128.63 M443.47,131.73 L444.15,132.00 L444.83,132.27 L445.52,132.54 L446.21,132.80 L446.90,133.05 L447.60,133.31 L448.30,133.56 L449.00,133.80 L449.70,134.04 L450.41,134.28 L451.11,134.51 L451.82,134.74 L452.54,134.97 L452.78,135.04 M460.74,137.20 L462.08,137.50 L463.43,137.79 L464.78,138.05 L466.13,138.30 L467.48,138.53 L468.84,138.74 L470.19,138.93 L471.55,139.11 L472.91,139.26 L474.26,139.41 L475.62,139.53 L476.98,139.65 L477.35,139.68 M486.13,140.19 L486.87,140.23 L487.61,140.26 L488.35,140.30 L489.09,140.33 L489.84,140.36 L490.58,140.40 L491.32,140.43 L492.06,140.47 L492.80,140.51 L493.54,140.54 L494.28,140.58 L495.02,140.63 L495.77,140.67 L495.77,140.67 M503.90,141.28 L505.01,141.38 L506.12,141.49 L507.23,141.60 L508.34,141.71 L509.44,141.83 L510.55,141.95 L511.66,142.08 L512.76,142.21 L513.87,142.34 L514.98,142.47 L516.08,142.61 L517.19,142.76 L517.68,142.82 M526.14,144.02 L526.88,144.13 L527.62,144.24 L528.35,144.35 L529.09,144.47 L529.82,144.58 L530.56,144.70 L531.29,144.82 L532.03,144.93 L532.76,145.05 L533.50,145.17 L534.23,145.29 L534.97,145.41 L535.70,145.54 L535.70,145.54 M543.78,146.92 L544.89,147.11 L545.99,147.31 L547.09,147.50 L548.19,147.70 L549.29,147.89 L550.39,148.09 L551.49,148.29 L552.59,148.48 L553.70,148.68 L554.80,148.88 L555.90,149.08 L557.00,149.28 L557.73,149.41 M566.05,150.89 L566.79,151.02 L567.52,151.15 L568.26,151.28 L568.99,151.40 L569.72,151.53 L570.46,151.66 L571.19,151.78 L571.93,151.91 L572.66,152.03 L573.40,152.16 L574.13,152.28 L574.87,152.40 L575.60,152.53 L575.60,152.53 M583.81,153.86 L584.91,154.04 L586.01,154.21 L587.11,154.39 L588.22,154.56 L589.32,154.73 L590.42,154.90 L591.52,155.07 L592.63,155.24 L593.73,155.40 L594.83,155.57 L595.94,155.73 L597.04,155.90 L597.65,155.99 M605.99,157.21 L606.73,157.31 L607.47,157.42 L608.20,157.52 L608.94,157.63 L609.67,157.73 L610.41,157.84 L611.15,157.94 L611.88,158.05 L612.62,158.15 L613.36,158.25 L614.09,158.36 L614.83,158.46 L615.56,158.56 L615.56,158.56 M623.67,159.68 L624.77,159.83 L625.88,159.98 L626.98,160.13 L628.09,160.28 L629.19,160.43 L630.30,160.58 L631.40,160.73 L632.51,160.88 L633.62,161.02 L634.72,161.17 L635.83,161.32 L636.93,161.47 L637.55,161.55 M645.90,162.66 L646.64,162.76 L647.38,162.86 L648.12,162.96 L648.86,163.05 L649.59,163.15 L650.33,163.25 L651.07,163.34 L651.81,163.44 L652.54,163.54 L653.28,163.63 L654.02,163.73 L654.76,163.82 L655.50,163.92 L655.50,163.92 M663.62,164.96 L664.72,165.10 L665.83,165.24 L666.94,165.38 L668.05,165.52 L669.15,165.66 L670.26,165.80 L671.37,165.93 L672.48,166.07 L673.59,166.21 L674.69,166.35 L675.80,166.48 L676.91,166.62 L677.53,166.69 M685.90,167.69 L686.64,167.78 L687.38,167.87 L688.12,167.95 L688.86,168.04 L689.60,168.13 L690.34,168.21 L691.08,168.30 L691.82,168.38 L692.56,168.47 L693.29,168.55 L694.03,168.64 L694.77,168.72 L695.51,168.80 L695.51,168.80 M703.65,169.70 L704.76,169.82 L705.87,169.94 L706.98,170.06 L708.09,170.18 L709.20,170.30 L710.31,170.41 L711.42,170.53 L712.53,170.64 L713.64,170.76 L714.75,170.87 L715.87,170.98 L716.98,171.09 L717.47,171.14 M725.87,171.96 L726.61,172.02 L727.35,172.09 L728.09,172.16 L728.83,172.23 L729.57,172.30 L730.31,172.37 L731.05,172.43 L731.79,172.50 L732.54,172.56 L733.28,172.63 L734.02,172.70 L734.76,172.76 L735.38,172.81 M743.53,173.50 L744.65,173.58 L745.76,173.67 L746.87,173.76 L747.99,173.84 L749.10,173.93 L750.21,174.01 L751.32,174.09 L752.44,174.18 L753.55,174.26 L754.66,174.34 L755.78,174.41 L756.89,174.49 L757.39,174.52" stroke="#ff0000" stroke-width="4.3"/>
</g>
<path transform="translate(152.00,426.60) scale(1.0000)" d="M13.8,-0.45 L10.2,-0.45 L10.2,-19.5 L3.9,-19.5 L3.9,-22.6 C7.5,-22.6 10.3,-23.7 11.2,-26.8 L13.8,-26.8 Z" fill="#000" stroke="#000" stroke-width="0.3"/>
<text x="173.25" y="426.60" font-size="38.2">0</text>
<text x="193.8" y="403.5" font-size="22.6">-6</text>
<path transform="translate(152.00,351.35) scale(1.0000)" d="M13.8,-0.45 L10.2,-0.45 L10.2,-19.5 L3.9,-19.5 L3.9,-22.6 C7.5,-22.6 10.3,-23.7 11.2,-26.8 L13.8,-26.8 Z" fill="#000" stroke="#000" stroke-width="0.3"/>
<text x="173.25" y="351.35" font-size="38.2">0</text>
<text x="193.8" y="328.2" font-size="22.6">-5</text>
<path transform="translate(152.00,276.10) scale(1.0000)" d="M13.8,-0.45 L10.2,-0.45 L10.2,-19.5 L3.9,-19.5 L3.9,-22.6 C7.5,-22.6 10.3,-23.7 11.2,-26.8 L13.8,-26.8 Z" fill="#000" stroke="#000" stroke-width="0.3"/>
<text x="173.25" y="276.10" font-size="38.2">0</text>
<text x="193.8" y="253.0" font-size="22.6">-4</text>
<path transform="translate(152.00,200.85) scale(1.0000)" d="M13.8,-0.45 L10.2,-0.45 L10.2,-19.5 L3.9,-19.5 L3.9,-22.6 C7.5,-22.6 10.3,-23.7 11.2,-26.8 L13.8,-26.8 Z" fill="#000" stroke="#000" stroke-width="0.3"/>
<text x="173.25" y="200.85" font-size="38.2">0</text>
<text x="193.8" y="177.8" font-size="22.6">-3</text>
<path transform="translate(152.00,125.60) scale(1.0000)" d="M13.8,-0.45 L10.2,-0.45 L10.2,-19.5 L3.9,-19.5 L3.9,-22.6 C7.5,-22.6 10.3,-23.7 11.2,-26.8 L13.8,-26.8 Z" fill="#000" stroke="#000" stroke-width="0.3"/>
<text x="173.25" y="125.60" font-size="38.2">0</text>
<text x="193.8" y="102.5" font-size="22.6">-2</text>
<text x="217.52" y="514.10" font-size="38.4">0</text>
<text x="351.02" y="514.10" font-size="38.4">5</text>
<path transform="translate(473.84,514.10) scale(1.0052)" d="M13.8,-0.45 L10.2,-0.45 L10.2,-19.5 L3.9,-19.5 L3.9,-22.6 C7.5,-22.6 10.3,-23.7 11.2,-26.8 L13.8,-26.8 Z" fill="#000" stroke="#000" stroke-width="0.3"/>
<text x="495.20" y="514.10" font-size="38.4">0</text>
<path transform="translate(607.34,514.10) scale(1.0052)" d="M13.8,-0.45 L10.2,-0.45 L10.2,-19.5 L3.9,-19.5 L3.9,-22.6 C7.5,-22.6 10.3,-23.7 11.2,-26.8 L13.8,-26.8 Z" fill="#000" stroke="#000" stroke-width="0.3"/>
<text x="628.70" y="514.10" font-size="38.4">5</text>
<text x="740.84" y="514.10" font-size="38.4">2</text>
<text x="762.20" y="514.10" font-size="38.4">0</text>
<text transform="translate(111.80,383.20) rotate(-90) scale(1,1.03)" font-size="38.0">K</text>
<text transform="translate(111.80,357.85) rotate(-90)" font-size="38.0">inetic </text>
<text transform="translate(111.80,258.59) rotate(-90) scale(1,1.03)" font-size="38.0">E</text>
<text transform="translate(111.80,233.24) rotate(-90)" font-size="38.0">nergy</text>
<text transform="translate(419.30,569.90) scale(1,1.03)" font-size="38.0">T</text>
<text transform="translate(442.51,569.90)" font-size="38.0">ime</text>
<text transform="translate(515.4,569.9) scale(0.8,1)" font-size="38.3">(</text>
<text transform="translate(525.0,569.9) scale(1.12,1)" font-family="Liberation Serif" font-style="italic" font-size="39.5" style="font-family:'Liberation Serif',serif;stroke:none">τ</text>
<text transform="translate(543.3,580.7) scale(1,1.05)" font-size="22.8">A</text>
<text transform="translate(558.6,569.9) scale(0.8,1)" font-size="38.3">)</text>
<g fill="none">
<line x1="555.9" y1="367.3" x2="598.1" y2="367.3" stroke="#000" stroke-width="3.9"/>
<line x1="555.9" y1="396.8" x2="598.1" y2="396.8" stroke="#0000ff" stroke-width="4.0" stroke-dasharray="2.4 4.18"/>
<line x1="555.9" y1="426.8" x2="598.1" y2="426.8" stroke="#ff0000" stroke-width="4.2" stroke-dasharray="10 8.9"/>
</g>
<text transform="translate(606.00,375.80) scale(1,1.03)" font-size="31.5">HLLD</text>
<text transform="translate(686.53,375.80)" font-size="31.5">-2p</text>
<text transform="translate(606.00,405.80) scale(1,1.03)" font-size="31.5">HLLE</text>
<text transform="translate(684.80,405.80)" font-size="31.5">-2p</text>
<text transform="translate(606.00,435.80) scale(1,1.03)" font-size="31.5">HLLE</text>
<text transform="translate(684.80,435.80)" font-size="31.5">-3p</text>
</svg>
</body></html>
